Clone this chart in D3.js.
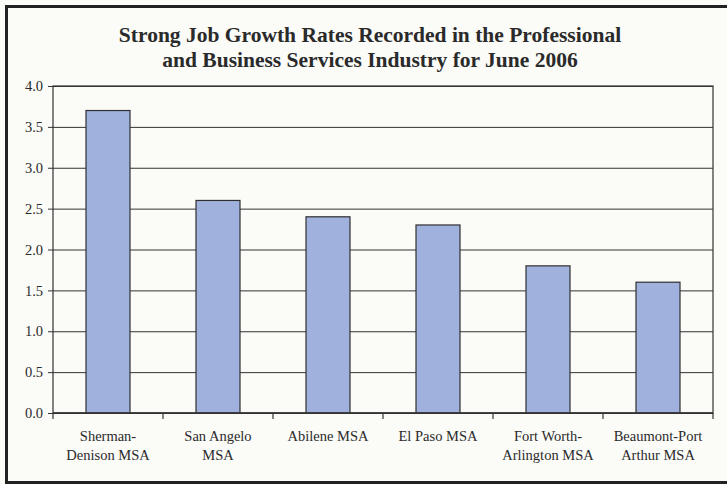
<!DOCTYPE html>
<html>
<head>
<meta charset="utf-8">
<script src="https://cdnjs.cloudflare.com/ajax/libs/d3/7.8.5/d3.min.js"></script>
<style>
  body { margin: 0; background: #fbfbf8; }
  svg { display: block; }
</style>
</head>
<body>
<div id="view"></div>
<script>
// chart data
var categories = [
	["Sherman-", "Denison MSA"],
	["San Angelo", "MSA"],
	["Abilene MSA"],
	["El Paso MSA"],
	["Fort Worth-", "Arlington MSA"],
	["Beaumont-Port", "Arthur MSA"]
];
var growth = [3.7, 2.6, 2.4, 2.3, 1.8, 1.6];
var yTicks = [0, 0.5, 1.0, 1.5, 2.0, 2.5, 3.0, 3.5, 4.0];
var titleLines = [
	"Strong Job Growth Rates Recorded in the Professional",
	"and Business Services Industry for June 2006"
];

var W = 727, H = 484;
var margin = {top: 86, right: 14, bottom: 71, left: 53};
var serif = "'Liberation Serif', 'Times New Roman', serif";

var svg = d3.select("#view")
	.append("svg")
	.attr("width", W)
	.attr("height", H);

// outer frame (right edge is cut off in the scan)
svg.append("path")
	.attr("d", "M" + (W + 5) + ",6.5 H6.5 V482.5 H" + (W + 5))
	.style("fill", "none")
	.style("stroke", "#222")
	.style("stroke-width", 3);

// title
svg.append("g").selectAll("text")
	.data(titleLines)
	.enter().append("text")
	.attr("x", 370)
	.attr("y", function(d, i){ return 42 + i * 24.5; })
	.attr("text-anchor", "middle")
	.style("font-family", serif)
	.style("font-weight", "bold")
	.style("font-size", "21.5px")
	.style("fill", "#2a2a2a")
	.text(function(d){ return d; });

var x = d3.scaleBand()
	.domain(d3.range(categories.length))
	.range([margin.left, W - margin.right])
	.paddingInner(0.6)
	.paddingOuter(0.3);

var y = d3.scaleLinear()
	.domain([0, 4])
	.range([H - margin.bottom, margin.top]);

// gridlines + y axis
var yAxis = svg.append("g")
	.attr("transform", "translate(" + margin.left + ",0)")
	.call(d3.axisLeft(y)
		.tickValues(yTicks)
		.tickFormat(d3.format(".1f"))
		.tickSize(-(W - margin.right - margin.left))
		.tickSizeOuter(0));
yAxis.select(".domain").remove();
yAxis.selectAll(".tick line")
	.attr("x1", -5)
	.style("stroke", "#333")
	.style("stroke-width", 1);
yAxis.selectAll(".tick text")
	.attr("x", -10)
	.style("font-family", serif)
	.style("font-size", "14.5px")
	.style("fill", "#2a2a2a");

// plot box
svg.append("rect")
	.attr("x", margin.left)
	.attr("y", margin.top)
	.attr("width", W - margin.right - margin.left)
	.attr("height", H - margin.bottom - margin.top)
	.style("fill", "none")
	.style("stroke", "#333")
	.style("stroke-width", 1.2);

// bars
svg.append("g").selectAll("rect")
	.data(growth)
	.enter().append("rect")
	.attr("x", function(d, i){ return x(i); })
	.attr("y", function(d){ return y(d); })
	.attr("width", x.bandwidth())
	.attr("height", function(d){ return y(0) - y(d); })
	.style("fill", "#9fb1dc")
	.style("stroke", "#2f2f2f")
	.style("stroke-width", 1.2);

// x axis with ticks between categories
var step = x.step();
var bounds = d3.range(categories.length + 1).map(function(i){ return margin.left + i * step; });
svg.append("line")
	.attr("x1", margin.left)
	.attr("x2", W - margin.right)
	.attr("y1", y(0))
	.attr("y2", y(0))
	.style("stroke", "#333")
	.style("stroke-width", 1.5);
svg.append("g").selectAll("line")
	.data(bounds)
	.enter().append("line")
	.attr("x1", function(d){ return d; })
	.attr("x2", function(d){ return d; })
	.attr("y1", y(0))
	.attr("y2", y(0) + 6)
	.style("stroke", "#333")
	.style("stroke-width", 1.2);

// category labels
var labels = svg.append("g").selectAll("text")
	.data(categories)
	.enter().append("text")
	.attr("text-anchor", "middle")
	.style("font-family", serif)
	.style("font-size", "14.5px")
	.style("fill", "#2a2a2a");
labels.selectAll("tspan")
	.data(function(d, i){ return d.map(function(s){ return {s: s, i: i}; }); })
	.enter().append("tspan")
	.attr("x", function(d){ return x(d.i) + x.bandwidth() / 2; })
	.attr("y", function(d, j){ return 441 + j * 19; })
	.text(function(d){ return d.s; });
</script>
</body>
</html>
